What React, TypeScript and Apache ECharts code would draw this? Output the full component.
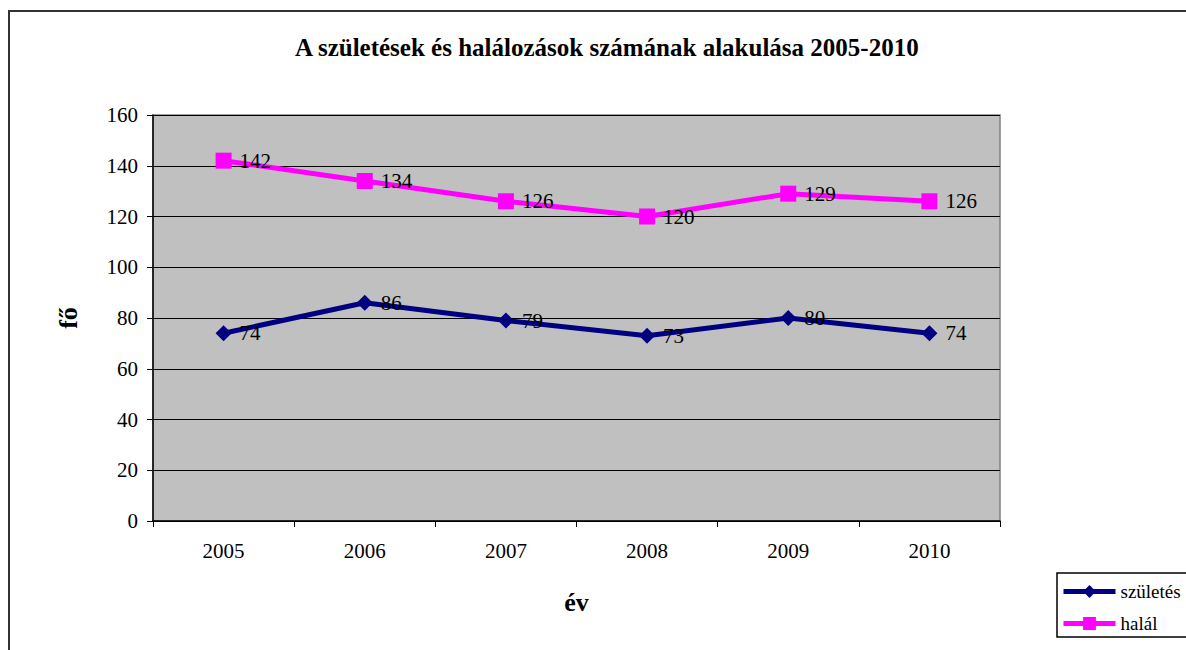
import React, { useEffect, useRef } from "react";
import * as echarts from "echarts";

const years = ["2005", "2006", "2007", "2008", "2009", "2010"];
const births = [74, 86, 79, 73, 80, 74];
const deaths = [142, 134, 126, 120, 129, 126];
const seriesNames = ["születés", "halál"];
const titleText = "A születések és halálozások számának alakulása 2005-2010";

const FONT = '"Liberation Serif", "Times New Roman", serif';

export default function App() {
  const ref = useRef<HTMLDivElement>(null);
  useEffect(() => {
    if (!ref.current) return;
    const chart = echarts.init(ref.current, null, { renderer: "svg" });
    const labelStyle = {
      show: true,
      position: "right" as const,
      distance: 8,
      color: "#000",
      fontSize: 21,
      fontFamily: FONT,
    };
    chart.setOption({
      animation: false,
      backgroundColor: "#fff",
      textStyle: { fontFamily: FONT },
      title: {
        text: titleText,
        left: 290,
        top: 30,
        textStyle: { fontFamily: FONT, fontWeight: "bold", fontSize: 25, color: "#000" },
      },
      graphic: [
        {
          type: "rect",
          shape: { x: 9, y: 11, width: 1400, height: 1000 },
          style: { fill: "none", stroke: "#333", lineWidth: 2 },
          silent: true,
        },
      ],
      legend: {
        orient: "vertical",
        left: 1057,
        top: 573,
        data: seriesNames,
        itemWidth: 52,
        itemHeight: 16,
        itemGap: 13,
        padding: [9, 100, 4, 4],
        borderColor: "#000",
        borderWidth: 1.5,
        lineStyle: { width: 5 },
        textStyle: { fontFamily: FONT, fontSize: 19, color: "#000" },
      },
      grid: {
        left: 153,
        top: 115,
        width: 847,
        height: 406,
        show: true,
        backgroundColor: "#C0C0C0",
        borderColor: "#808080",
        borderWidth: 1.5,
      },
      xAxis: {
        type: "category",
        data: years,
        boundaryGap: true,
        name: "év",
        nameLocation: "middle",
        nameGap: 68,
        nameTextStyle: { fontFamily: FONT, fontSize: 26, fontWeight: "bold", color: "#000" },
        axisLine: { lineStyle: { color: "#000", width: 1.5 } },
        axisTick: { show: true, length: 6, lineStyle: { color: "#000" } },
        axisLabel: { color: "#000", fontSize: 21, fontFamily: FONT, margin: 19 },
      },
      yAxis: {
        type: "value",
        min: 0,
        max: 160,
        interval: 20,
        name: "fő",
        nameLocation: "middle",
        nameRotate: 90,
        nameGap: 72,
        nameTextStyle: { fontFamily: FONT, fontSize: 26, fontWeight: "bold", color: "#000" },
        axisLine: { show: true, lineStyle: { color: "#000", width: 1.5 } },
        axisTick: { show: true, length: 6, lineStyle: { color: "#000" } },
        axisLabel: { color: "#000", fontSize: 21, fontFamily: FONT, margin: 15 },
        splitLine: { show: true, lineStyle: { color: "#000", width: 1 } },
      },
      series: [
        {
          name: seriesNames[0],
          type: "line",
          data: births,
          symbol: "diamond",
          symbolSize: 16,
          lineStyle: { color: "#000080", width: 5 },
          itemStyle: { color: "#000080" },
          label: labelStyle,
          z: 3,
        },
        {
          name: seriesNames[1],
          type: "line",
          data: deaths,
          symbol: "rect",
          symbolSize: 16,
          lineStyle: { color: "#FF00FF", width: 5 },
          itemStyle: { color: "#FF00FF" },
          label: labelStyle,
          z: 3,
        },
      ],
    });
    return () => chart.dispose();
  }, []);
  return (
    <div
      ref={ref}
      style={{ position: "absolute", left: 0, top: 0, width: 1186, height: 650 }}
    />
  );
}
